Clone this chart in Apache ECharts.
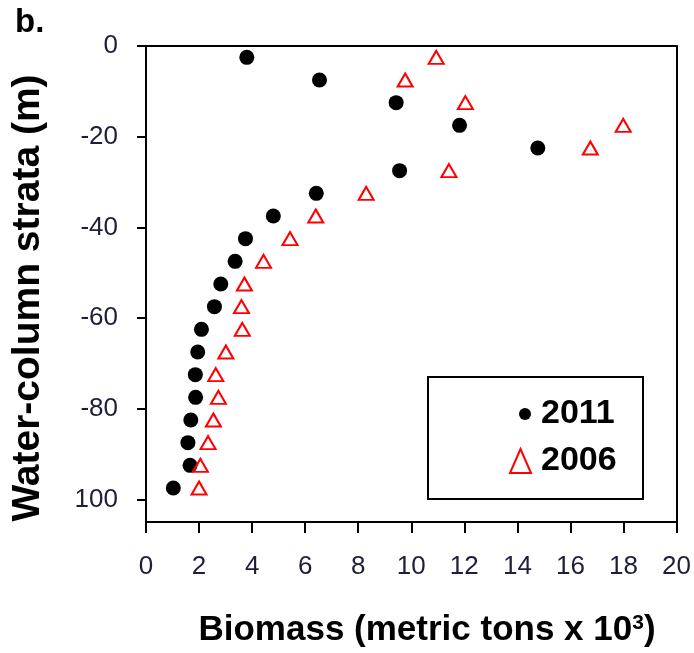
<!DOCTYPE html>
<html>
<head>
<meta charset="utf-8">
<script src="https://cdn.jsdelivr.net/npm/echarts@6/dist/echarts.min.js"></script>
<style>
  html, body { margin: 0; padding: 0; background: #fff; }
  #chart { width: 694px; height: 653px; }
</style>
</head>
<body>
<div id="chart"></div>
<script>
// Depth strata (m), midpoints of 5 m bins
var depths = [-2.5, -7.5, -12.5, -17.5, -22.5, -27.5, -32.5, -37.5, -42.5, -47.5,
              -52.5, -57.5, -62.5, -67.5, -72.5, -77.5, -82.5, -87.5, -92.5, -97.5];
// Biomass (metric tons x 10^3)
var biomass2011 = [3.80, 6.54, 9.43, 11.82, 14.77, 9.56, 6.42, 4.80, 3.75, 3.36,
                   2.82, 2.58, 2.09, 1.95, 1.86, 1.87, 1.69, 1.58, 1.66, 1.03];
var biomass2006 = [10.94, 9.77, 12.04, 17.99, 16.75, 11.42, 8.30, 6.40, 5.43, 4.43,
                   3.71, 3.60, 3.63, 3.01, 2.63, 2.73, 2.54, 2.34, 2.05, 2.00];
var yTickValues = [0, -20, -40, -60, -80, -100];
var yTickLabels = ['0', '-20', '-40', '-60', '-80', '100'];
var seriesNames = ['2011', '2006'];

function pairs(xs, ys) {
  return xs.map(function (v, i) { return [v, ys[i]]; });
}

var chart = echarts.init(document.getElementById('chart'), null, { renderer: 'canvas' });
var FONT = '"Liberation Sans", Arial, sans-serif';
var LABEL_COLOR = '#1e1e3a';
var frameAxisLine = { show: true, onZero: false, lineStyle: { color: '#000', width: 2 } };

var option = {
  backgroundColor: '#ffffff',
  animation: false,
  grid: { left: 146, top: 46, right: 17, bottom: 131 },
  xAxis: [
    {
      type: 'value', min: 0, max: 20, interval: 2, position: 'bottom',
      axisLine: frameAxisLine,
      axisTick: { show: true, inside: false, length: 11, lineStyle: { color: '#000', width: 2 } },
      axisLabel: { margin: 32, fontSize: 26, fontFamily: FONT, color: LABEL_COLOR },
      splitLine: { show: false }
    },
    {
      type: 'value', min: 0, max: 20, position: 'top',
      axisLine: frameAxisLine,
      axisTick: { show: false }, axisLabel: { show: false }, splitLine: { show: false }
    }
  ],
  yAxis: [
    {
      type: 'value', min: -105, max: 0, position: 'left',
      axisLine: frameAxisLine,
      axisTick: { show: true, inside: false, length: 9, customValues: yTickValues,
                  lineStyle: { color: '#000', width: 2 } },
      axisLabel: {
        margin: 28, fontSize: 26, fontFamily: FONT, color: LABEL_COLOR,
        customValues: yTickValues,
        formatter: function (v) {
          var idx = yTickValues.indexOf(v);
          return idx >= 0 ? yTickLabels[idx] : '';
        }
      },
      splitLine: { show: false }
    },
    {
      type: 'value', min: -105, max: 0, position: 'right',
      axisLine: frameAxisLine,
      axisTick: { show: false }, axisLabel: { show: false }, splitLine: { show: false }
    }
  ],
  legend: [
    {
      data: [{ name: seriesNames[0], icon: 'circle', itemStyle: { color: '#000', opacity: 1 } }],
      left: 519, top: 397, padding: 0,
      itemWidth: 12, itemHeight: 12,
      selectedMode: false,
      textStyle: { fontSize: 34, fontWeight: 'bold', fontFamily: FONT, color: '#000', padding: [0, 0, 0, 5] }
    },
    {
      data: [{ name: seriesNames[1], icon: 'triangle',
               itemStyle: { color: 'rgba(255,255,255,0)', borderColor: '#ff0000', borderWidth: 2, opacity: 1 } }],
      left: 509, top: 444, padding: 0,
      itemWidth: 21, itemHeight: 24, symbolKeepAspect: false,
      selectedMode: false,
      textStyle: { fontSize: 34, fontWeight: 'bold', fontFamily: FONT, color: '#000', padding: [0, 0, 0, 5] }
    }
  ],
  graphic: [
    {
      type: 'rect', z: 1,
      shape: { x: 428, y: 377, width: 215, height: 122 },
      style: { fill: '#fff', stroke: '#000', lineWidth: 2 }
    },
    {
      type: 'text', x: 15, y: 23,
      style: { text: 'b.', font: 'bold 33px ' + FONT, fill: '#000',
               textAlign: 'left', textVerticalAlign: 'middle' }
    },
    {
      type: 'text', x: 28, y: 298, rotation: Math.PI / 2,
      style: { text: 'Water-column strata (m)', font: 'bold 39px ' + FONT, fill: '#000',
               textAlign: 'center', textVerticalAlign: 'middle' }
    },
    {
      type: 'text', x: 427, y: 630,
      style: {
        text: '{a|Biomass (metric tons x 10}{s|3}{a|)}',
        textAlign: 'center', textVerticalAlign: 'middle',
        rich: {
          a: { fontSize: 35, fontWeight: 'bold', fontFamily: FONT, fill: '#000' },
          s: { fontSize: 21, fontWeight: 'bold', fontFamily: FONT, fill: '#000', verticalAlign: 'top' }
        }
      }
    }
  ],
  series: [
    {
      name: seriesNames[0], type: 'scatter', z: 3,
      symbol: 'circle', symbolSize: 15,
      itemStyle: { color: '#000', opacity: 1 },
      data: pairs(biomass2011, depths)
    },
    {
      name: seriesNames[1], type: 'scatter', z: 4,
      symbol: 'triangle', symbolSize: [15, 13],
      itemStyle: { color: 'rgba(255,255,255,0)', borderColor: '#ff0000', borderWidth: 2, opacity: 1 },
      data: pairs(biomass2006, depths)
    }
  ]
};
chart.setOption(option);
</script>
</body>
</html>
